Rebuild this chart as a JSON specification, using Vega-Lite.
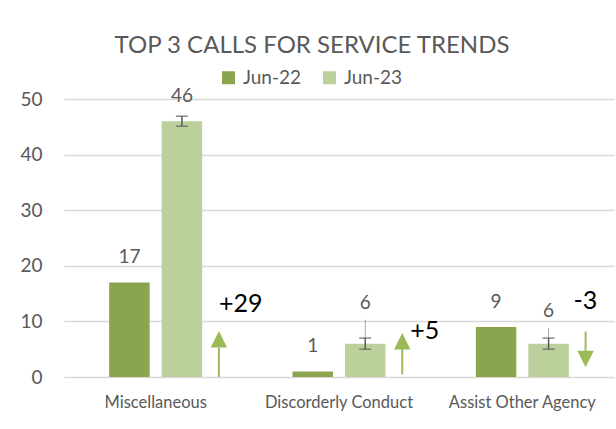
{
  "$schema": "https://vega.github.io/schema/vega-lite/v6.json",
  "width": 550,
  "height": 278,
  "autosize": "none",
  "padding": {"left": 64, "top": 99, "right": 2, "bottom": 52},
  "background": "white",
  "config": {
    "font": "Lato",
    "view": {"stroke": null},
    "title": {"font": "Lato", "fontSize": 24, "fontWeight": "normal", "color": "#595959"}
  },
  "title": {"text": "TOP 3 CALLS FOR SERVICE TRENDS", "anchor": "middle", "frame": "group", "dx": -27, "offset": 10},
  "datasets": {
    "bars": [
      {"category": "Miscellaneous", "series": "Jun-22", "value": 17},
      {"category": "Miscellaneous", "series": "Jun-23", "value": 46},
      {"category": "Discorderly Conduct", "series": "Jun-22", "value": 1},
      {"category": "Discorderly Conduct", "series": "Jun-23", "value": 6},
      {"category": "Assist Other Agency", "series": "Jun-22", "value": 9},
      {"category": "Assist Other Agency", "series": "Jun-23", "value": 6}
    ],
    "err": [
      {"category": "Miscellaneous", "series": "Jun-23", "lo": 45.1, "hi": 46.9},
      {"category": "Discorderly Conduct", "series": "Jun-23", "lo": 5.0, "hi": 7.0},
      {"category": "Assist Other Agency", "series": "Jun-23", "lo": 5.0, "hi": 7.0}
    ],
    "leaders": [
      {"category": "Discorderly Conduct", "series": "Jun-23", "from": 7.0, "to": 10.3},
      {"category": "Assist Other Agency", "series": "Jun-23", "from": 7.0, "to": 8.8}
    ],
    "arrows": [
      {"category": "Miscellaneous", "dir": "up", "lineLo": 0, "lineHi": 5.3, "head": 6.8, "change": "+29", "labelAt": 11.7},
      {"category": "Discorderly Conduct", "dir": "up", "lineLo": 0.45, "lineHi": 5.1, "head": 6.45, "change": "+5", "labelAt": 6.8},
      {"category": "Assist Other Agency", "dir": "down", "lineLo": 4.7, "lineHi": 8.15, "head": 3.25, "change": "-3", "labelAt": 12.2}
    ]
  },
  "encoding": {
    "x": {
      "field": "category", "type": "nominal", "sort": null,
      "scale": {"domain": ["Miscellaneous", "Discorderly Conduct", "Assist Other Agency"], "paddingInner": 0, "paddingOuter": 0},
      "axis": {"title": null, "domain": false, "ticks": false, "labelAngle": 0, "labelFontSize": 16.5, "labelColor": "#595959", "labelPadding": 17}
    }
  },
  "layer": [
    {
      "data": {"name": "bars"},
      "mark": {"type": "bar"},
      "encoding": {
        "xOffset": {"field": "series", "type": "nominal", "scale": {"domain": ["Jun-22", "Jun-23"], "paddingInner": 0.229, "paddingOuter": 0.86}},
        "y": {
          "field": "value", "type": "quantitative",
          "scale": {"domain": [0, 50], "nice": false},
          "axis": {"title": null, "values": [0, 10, 20, 30, 40, 50], "domain": false, "ticks": false, "gridColor": "#D9D9D9", "gridWidth": 1.3, "labelFontSize": 19, "labelColor": "#595959", "labelPadding": 22}
        },
        "color": {
          "field": "series", "type": "nominal",
          "scale": {"domain": ["Jun-22", "Jun-23"], "range": ["#8BA54E", "#BBD09A"]},
          "legend": {"title": null, "orient": "none", "legendX": 155, "legendY": -31, "direction": "horizontal", "symbolType": "square", "symbolSize": 169, "symbolStrokeWidth": 0, "labelFontSize": 19, "labelColor": "#595959", "labelOffset": 5, "columnPadding": 18}
        }
      }
    },
    {
      "data": {"name": "bars"},
      "transform": [{"filter": "!(datum.series == 'Jun-23' && datum.category != 'Miscellaneous')"}],
      "mark": {"type": "text", "baseline": "alphabetic", "dy": -19, "fontSize": 19, "color": "#595959"},
      "encoding": {
        "xOffset": {"field": "series", "type": "nominal", "scale": {"domain": ["Jun-22", "Jun-23"], "paddingInner": 0.229, "paddingOuter": 0.86}},
        "y": {"field": "value", "type": "quantitative"},
        "text": {"field": "value", "type": "quantitative"}
      }
    },
    {
      "data": {"name": "bars"},
      "transform": [{"filter": "datum.series == 'Jun-23' && datum.category == 'Discorderly Conduct'"}],
      "mark": {"type": "text", "baseline": "alphabetic", "dy": -35, "fontSize": 19, "color": "#595959"},
      "encoding": {
        "xOffset": {"field": "series", "type": "nominal", "scale": {"domain": ["Jun-22", "Jun-23"], "paddingInner": 0.229, "paddingOuter": 0.86}},
        "y": {"field": "value", "type": "quantitative"},
        "text": {"field": "value", "type": "quantitative"}
      }
    },
    {
      "data": {"name": "bars"},
      "transform": [{"filter": "datum.series == 'Jun-23' && datum.category == 'Assist Other Agency'"}],
      "mark": {"type": "text", "baseline": "alphabetic", "dy": -27, "fontSize": 19, "color": "#595959"},
      "encoding": {
        "xOffset": {"field": "series", "type": "nominal", "scale": {"domain": ["Jun-22", "Jun-23"], "paddingInner": 0.229, "paddingOuter": 0.86}},
        "y": {"field": "value", "type": "quantitative"},
        "text": {"field": "value", "type": "quantitative"}
      }
    },
    {
      "data": {"name": "leaders"},
      "mark": {"type": "rule", "color": "#A6A6A6", "strokeWidth": 1},
      "encoding": {
        "xOffset": {"field": "series", "type": "nominal", "scale": {"domain": ["Jun-22", "Jun-23"], "paddingInner": 0.229, "paddingOuter": 0.86}},
        "y": {"field": "from", "type": "quantitative"},
        "y2": {"field": "to"}
      }
    },
    {
      "data": {"name": "err"},
      "mark": {"type": "rule", "color": "#595959", "strokeWidth": 1.5},
      "encoding": {
        "xOffset": {"field": "series", "type": "nominal", "scale": {"domain": ["Jun-22", "Jun-23"], "paddingInner": 0.229, "paddingOuter": 0.86}},
        "y": {"field": "lo", "type": "quantitative"},
        "y2": {"field": "hi"}
      }
    },
    {
      "data": {"name": "err"},
      "mark": {"type": "tick", "color": "#595959", "thickness": 1.5, "size": 12, "orient": "horizontal"},
      "encoding": {
        "xOffset": {"field": "series", "type": "nominal", "scale": {"domain": ["Jun-22", "Jun-23"], "paddingInner": 0.229, "paddingOuter": 0.86}},
        "y": {"field": "lo", "type": "quantitative"}
      }
    },
    {
      "data": {"name": "err"},
      "mark": {"type": "tick", "color": "#595959", "thickness": 1.5, "size": 12, "orient": "horizontal"},
      "encoding": {
        "xOffset": {"field": "series", "type": "nominal", "scale": {"domain": ["Jun-22", "Jun-23"], "paddingInner": 0.229, "paddingOuter": 0.86}},
        "y": {"field": "hi", "type": "quantitative"}
      }
    },
    {
      "data": {"name": "arrows"},
      "mark": {"type": "rule", "color": "#9BBB59", "strokeWidth": 2},
      "encoding": {
        "x": {"field": "category", "type": "nominal", "bandPosition": 0.845},
        "y": {"field": "lineLo", "type": "quantitative"},
        "y2": {"field": "lineHi"}
      }
    },
    {
      "data": {"name": "arrows"},
      "mark": {"type": "point", "filled": true, "opacity": 1, "color": "#9BBB59", "size": 272, "strokeWidth": 0},
      "encoding": {
        "x": {"field": "category", "type": "nominal", "bandPosition": 0.845},
        "y": {"field": "head", "type": "quantitative"},
        "shape": {"field": "dir", "type": "nominal", "scale": {"domain": ["up", "down"], "range": ["M-1,1L1,1L0,-1Z", "M-1,-1L1,-1L0,1Z"]}, "legend": null}
      }
    },
    {
      "data": {"name": "arrows"},
      "transform": [{"filter": "datum.category == 'Miscellaneous'"}],
      "mark": {"type": "text", "baseline": "alphabetic", "align": "left", "dx": 0, "fontSize": 25, "color": "#000000"},
      "encoding": {
        "x": {"field": "category", "type": "nominal", "bandPosition": 0.845},
        "y": {"field": "labelAt", "type": "quantitative"},
        "text": {"field": "change"}
      }
    },
    {
      "data": {"name": "arrows"},
      "transform": [{"filter": "datum.category == 'Discorderly Conduct'"}],
      "mark": {"type": "text", "baseline": "alphabetic", "align": "left", "dx": 8, "fontSize": 25, "color": "#000000"},
      "encoding": {
        "x": {"field": "category", "type": "nominal", "bandPosition": 0.845},
        "y": {"field": "labelAt", "type": "quantitative"},
        "text": {"field": "change"}
      }
    },
    {
      "data": {"name": "arrows"},
      "transform": [{"filter": "datum.category == 'Assist Other Agency'"}],
      "mark": {"type": "text", "baseline": "alphabetic", "align": "left", "dx": -12, "fontSize": 25, "color": "#000000"},
      "encoding": {
        "x": {"field": "category", "type": "nominal", "bandPosition": 0.845},
        "y": {"field": "labelAt", "type": "quantitative"},
        "text": {"field": "change"}
      }
    }
  ]
}
